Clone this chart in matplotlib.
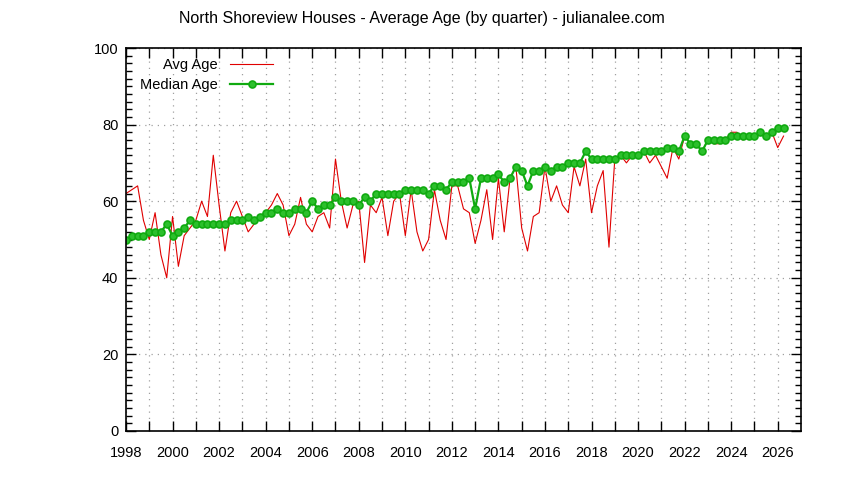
import numpy as np
import matplotlib
matplotlib.use("Agg")
import matplotlib.pyplot as plt
from matplotlib.ticker import MultipleLocator

plt.rcParams['font.family'] = ['Liberation Sans', 'DejaVu Sans']

# quarterly data, first quarter of 1998 through second quarter of 2026
quarters = np.arange(1998, 2026.5, 0.25)

avg_age = [62, 63, 64, 55, 50, 57, 46, 40, 56, 43, 51, 53, 55, 60, 56, 72,
           59, 47, 57, 60, 56, 52, 54, 56, 57, 59, 62, 59, 51, 54, 61, 54,
           52, 56, 57, 53, 71, 60, 53, 59, 60, 44, 59, 57, 61, 51, 60, 62,
           51, 63, 52, 47, 50, 63, 55, 50, 64, 64, 58, 57, 49, 55, 63, 50,
           66, 52, 66, 69, 53, 47, 56, 57, 69, 60, 64, 59, 57, 69, 64, 71,
           57, 64, 68, 48, 71, 72, 70, 72, 72, 73, 70, 72, 69, 66, 74, 71,
           77, 75, 75, 73, 76, 75, 75, 76, 78, 78, 76, 77, 77, 78, 76, 78,
           74, 77]

median_age = [50, 51, 51, 51, 52, 52, 52, 54, 51, 52, 53, 55, 54, 54, 54, 54,
              54, 54, 55, 55, 55, 56, 55, 56, 57, 57, 58, 57, 57, 58, 58, 57,
              60, 58, 59, 59, 61, 60, 60, 60, 59, 61, 60, 62, 62, 62, 62, 62,
              63, 63, 63, 63, 62, 64, 64, 63, 65, 65, 65, 66, 58, 66, 66, 66,
              67, 65, 66, 69, 68, 64, 68, 68, 69, 68, 69, 69, 70, 70, 70, 73,
              71, 71, 71, 71, 71, 72, 72, 72, 72, 73, 73, 73, 73, 74, 74, 73,
              77, 75, 75, 73, 76, 76, 76, 76, 77, 77, 77, 77, 77, 78, 77, 78,
              79, 79]

fig = plt.figure(figsize=(8.44, 4.80), dpi=100)
ax = fig.add_axes([126/844, 49/480, 675/844, 383/480])

ax.plot(quarters, avg_age, color='#e00000', lw=0.8, label='Avg Age')
ax.plot(quarters, median_age, color='#10aa10', lw=1.6, marker='o',
        markersize=5, markeredgewidth=1.2, markerfacecolor='#2cc02c',
        markeredgecolor='#10aa10', label='Median Age')

ax.set_xlim(1998, 2027)
ax.set_ylim(0, 100)
ax.set_xticks(np.arange(1998, 2027, 1))
ax.set_xticklabels([str(y) if y % 2 == 0 else '' for y in range(1998, 2027)])
ax.yaxis.set_major_locator(MultipleLocator(20))
ax.yaxis.set_minor_locator(MultipleLocator(2))

ax.tick_params(which='both', direction='in', top=True, right=True,
               labelsize=10.5, colors='black')
ax.tick_params(axis='x', which='major', length=7, width=1, pad=11)
ax.tick_params(axis='y', which='major', length=7, width=1, pad=5.5)
ax.tick_params(axis='y', which='minor', length=4, width=1)
for s in ax.spines.values():
    s.set_linewidth(1.2)

ax.grid(True, which='major', color='#a0a0a0', linestyle=(0, (1, 4)), lw=0.9)

leg = ax.legend(loc='upper left', frameon=False, markerfirst=False,
                fontsize=10.5, handlelength=3.0, handletextpad=0.8,
                labelspacing=0.38, borderaxespad=0.3,
                bbox_to_anchor=(0.006, 1.0))

fig.text(0.5, 1 - 18/480, 'North Shoreview Houses - Average Age (by quarter) - julianalee.com',
         ha='center', va='center', fontsize=11.5)

fig.savefig('out.png', dpi=100)
